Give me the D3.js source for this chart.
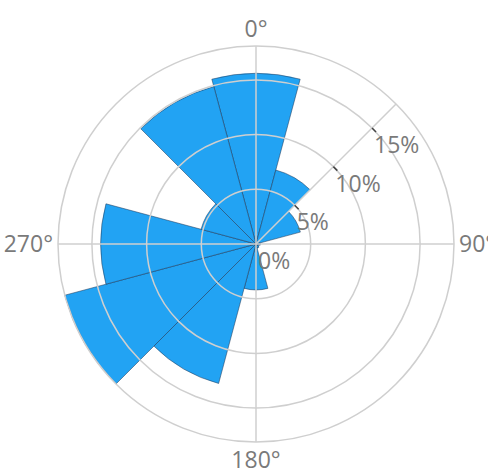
<!DOCTYPE html>
<html>
<head>
<meta charset="utf-8">
<title>polar bar</title>
<style>
body {margin: 0; background: #fff}
text {font-family: "Open Sans", sans-serif; font-size: 23px; fill: #7a7a7a}
.grid {fill: none; stroke: #cfcfcf; stroke-width: 1.5}
</style>
</head>
<body>
<script src="https://cdn.jsdelivr.net/npm/d3@7/dist/d3.min.js"></script>
<script>

// direction of each bar (degrees, clockwise from north) and its share in %
var directions = [0, 30, 60, 90, 120, 150, 180, 210, 240, 270, 300, 330]
var values = [15.6, 7.0, 4.2, 0.4, 0.3, 0.4, 4.2, 13.2, 18.1, 14.2, 5.2, 14.9]
var radialTicks = [0, 5, 10, 15]
var angleTicks = [0, 90, 180, 270]

var width = 488,
    height = 471,
    cx = 256,
    cy = 244,
    R = 198,
    binWidth = 30

var rad = Math.PI / 180

var r = d3.scaleLinear().domain([0, d3.max(values)]).range([0, R])

var svg = d3.select('body').append('svg')
    .attr('width', width)
    .attr('height', height)

var g = svg.append('g')
    .attr('transform', 'translate(' + cx + ',' + cy + ')')

var arc = d3.arc()
    .innerRadius(0)
    .outerRadius(function(d){ return r(d.v) })
    .startAngle(function(d){ return (d.a - binWidth / 2) * rad })
    .endAngle(function(d){ return (d.a + binWidth / 2) * rad })

// bars
g.selectAll('path.bar')
    .data(directions.map(function(a, i){ return {a: a, v: values[i]} }))
    .enter().append('path')
    .attr('class', 'bar')
    .attr('d', arc)
    .attr('fill', '#22a3f3')
    .attr('stroke', 'rgba(30,50,80,0.5)')
    .attr('stroke-width', 1)

// grid circles, drawn over the bars
g.selectAll('circle.grid')
    .data(radialTicks.slice(1).concat([d3.max(values)]))
    .enter().append('circle')
    .attr('class', 'grid')
    .attr('r', function(d){ return r(d) })

// angular grid lines
g.selectAll('line.grid')
    .data(angleTicks)
    .enter().append('line')
    .attr('class', 'grid')
    .attr('x2', function(d){ return R * Math.sin(d * rad) })
    .attr('y2', function(d){ return -R * Math.cos(d * rad) })

// radial axis at 45 degrees
var ax = Math.SQRT1_2
g.append('line')
    .attr('class', 'grid')
    .attr('x2', R * ax)
    .attr('y2', -R * ax)

g.selectAll('line.tick')
    .data(radialTicks.slice(1))
    .enter().append('line')
    .attr('class', 'tick')
    .attr('x1', function(d){ return r(d) * ax })
    .attr('y1', function(d){ return -r(d) * ax })
    .attr('x2', function(d){ return r(d) * ax + 4 })
    .attr('y2', function(d){ return -r(d) * ax + 4 })
    .attr('stroke', '#444')
    .attr('stroke-width', 1.5)

g.selectAll('text.rlabel')
    .data(radialTicks)
    .enter().append('text')
    .attr('class', 'rlabel')
    .attr('x', function(d){ return r(d) * ax + 2 })
    .attr('y', function(d){ return -r(d) * ax + 25 })
    .text(function(d){ return d + '%' })

// angular labels
g.selectAll('text.alabel')
    .data(angleTicks)
    .enter().append('text')
    .attr('class', 'alabel')
    .attr('x', function(d){ return (R + 5) * Math.sin(d * rad) })
    .attr('y', function(d){
        if (d === 0) return -R - 9
        if (d === 180) return R + 26
        return 8
    })
    .attr('text-anchor', function(d){
        if (d === 90) return 'start'
        if (d === 270) return 'end'
        return 'middle'
    })
    .text(function(d){ return d + '°' })

</script>
</body>
</html>
